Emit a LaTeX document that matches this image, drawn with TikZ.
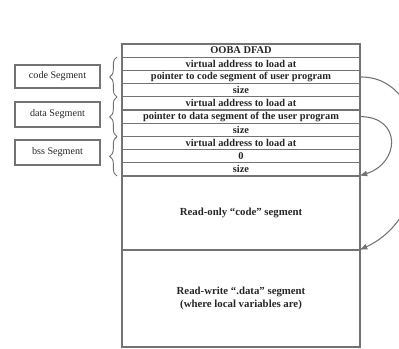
\documentclass[tikz,border=0pt]{standalone}
\usepackage{fontspec}
\setmainfont{Liberation Serif}
\usetikzlibrary{decorations.pathreplacing,arrows.meta}
\definecolor{rule}{gray}{0.45}
\definecolor{ink}{gray}{0.15}
\tikzset{
  row/.style={draw=rule, line width=0.8pt, minimum width=178.5pt, minimum height=9.9pt,
    inner sep=0pt, font=\fontsize{7.8}{8}\selectfont\bfseries, text=ink},
  segbox/.style={draw=rule, line width=0.8pt, minimum width=178.5pt, inner sep=0pt,
    align=center, font=\fontsize{8.1}{10}\selectfont\bfseries, text=ink},
  tag/.style={draw=rule, line width=0.8pt, minimum width=63.75pt, inner sep=0pt,
    font=\fontsize{7.6}{9}\selectfont, text=ink},
  grp/.style={draw=rule, line width=0.7pt, decorate, decoration={brace, amplitude=5.5pt}},
  link/.style={draw=rule, line width=0.8pt, -{Latex[length=6pt,width=4.5pt]}, shorten >=-1pt}
}
\begin{document}
\begin{tikzpicture}[x=0.75pt, y=-0.75pt]
\useasboundingbox (0,0) rectangle (399,349);
\clip (0,0) rectangle (399,349);

% header rows of the executable image
\node[row] (r1)  at (241, 50.6)  {OOBA DFAD};
\node[row] (r2)  at (241, 63.8)  {virtual address to load at};
\node[row] (r3)  at (241, 77.0)  {pointer to code segment of user program};
\node[row] (r4)  at (241, 90.2)  {size};
\node[row] (r5)  at (241, 103.4) {virtual address to load at};
\node[row] (r6)  at (241, 116.6) {pointer to data segment of the user program};
\node[row] (r7)  at (241, 129.8) {size};
\node[row] (r8)  at (241, 143.0) {virtual address to load at};
\node[row] (r9)  at (241, 156.2) {0};
\node[row] (r10) at (241, 169.4) {size};

% segments
\node[segbox, minimum height=55.5pt] (ro) at (241, 213) {Read-only ``code'' segment};
\node[segbox, minimum height=72.75pt] (rw) at (241, 298.5)
  {Read-write ``.data'' segment\\(where local variables are)};

% segment descriptors on the left
\node[tag, minimum height=17.25pt] (tcode) at (57.5, 76.5)  {code Segment};
\node[tag, minimum height=18.75pt] (tdata) at (57.5, 114.5) {data Segment};
\node[tag, minimum height=18.75pt] (tbss)  at (57.5, 152.5) {bss Segment};

% braces grouping the header rows
\coordinate (cb1a) at (117, 97);
\coordinate (cb1b) at (117, 57);
\coordinate (cb2a) at (117, 136.6);
\coordinate (cb2b) at (117, 97);
\coordinate (cb3a) at (117, 176);
\coordinate (cb3b) at (117, 136.6);
\draw[grp] (cb1a) -- (cb1b);
\draw[grp] (cb2a) -- (cb2b);
\draw[grp] (cb3a) -- (cb3b);

% pointers into the segments
\draw[link] (r6.east) .. controls (402,117) and (400,163) .. (ro.north east);
\draw[link] (r3.east) .. controls (432,76) and (442,212) .. (rw.north east);
\end{tikzpicture}
\end{document}
